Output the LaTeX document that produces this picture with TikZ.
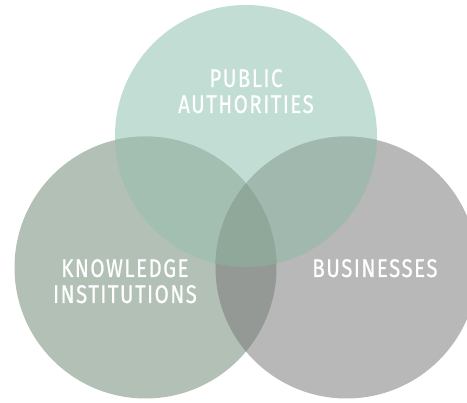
\documentclass[tikz,border=0pt]{standalone}
\usepackage{fontspec}
\newfontfamily\labfont[FakeStretch=0.80,LetterSpace=6,FakeBold=0.6]{Fira Sans}
\definecolor{topc}{HTML}{C2DDD4}
\definecolor{leftc}{HTML}{B2C0B5}
\definecolor{rightc}{HTML}{B7B8B7}
\definecolor{tlc}{HTML}{A2BFB1}
\definecolor{trc}{HTML}{A0B8AE}
\definecolor{lrc}{HTML}{949995}
\definecolor{allc}{HTML}{8FA89A}
\tikzset{lab/.style={text=white,font=\labfont\fontsize{25.5}{26}\selectfont,align=center,inner sep=0pt,anchor=base}}
\begin{document}
\begin{tikzpicture}[x=1pt,y=-1pt]
\useasboundingbox (0,0) rectangle (467,403);
\clip (0,0) rectangle (467,403);
\coordinate (ct) at (246,136);
\coordinate (cl) at (145.5,267.5);
\coordinate (cr) at (346.5,267.5);
\def\rr{131}
\fill[topc] (ct) circle (\rr);
\fill[leftc] (cl) circle (\rr);
\fill[rightc] (cr) circle (\rr);
\begin{scope}
\clip (ct) circle (\rr);
\fill[tlc] (cl) circle (\rr);
\fill[trc] (cr) circle (\rr);
\end{scope}
\begin{scope}
\clip (cl) circle (\rr);
\fill[lrc] (cr) circle (\rr);
\end{scope}
\begin{scope}
\clip (ct) circle (\rr);
\clip (cl) circle (\rr);
\fill[allc] (cr) circle (\rr);
\end{scope}
\node[lab] (pub1) at (246,87) {PUBLIC};
\node[lab] (pub2) at (246,113) {AUTHORITIES};
\node[lab] (kn1) at (125,277) {KNOWLEDGE};
\node[lab] (kn2) at (125,303) {INSTITUTIONS};
\node[lab] (bus) at (375,277) {BUSINESSES};
\end{tikzpicture}
\end{document}
